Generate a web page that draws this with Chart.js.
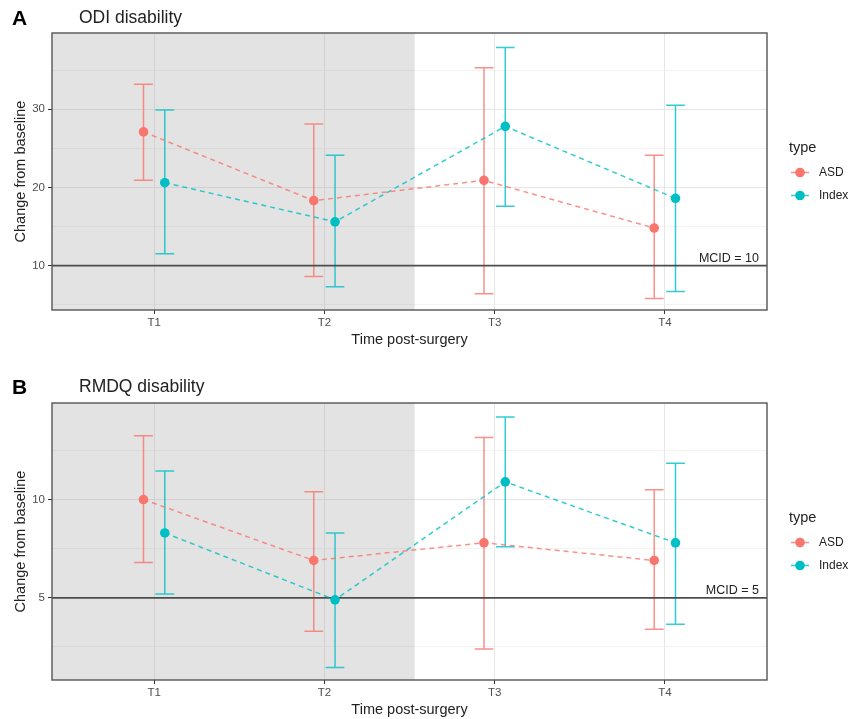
<!DOCTYPE html>
<html>
<head>
<meta charset="utf-8">
<script src="https://cdn.jsdelivr.net/npm/chart.js@4.4.1/dist/chart.umd.min.js"></script>
<style>
    body { margin: 0; background: #fff; font-family: "Liberation Sans", Arial, sans-serif; }
    #page { position: relative; width: 852px; height: 719px; overflow: hidden; }
    .panel { position: absolute; left: 0; width: 852px; height: 349px; }
    .letter { position: absolute; left: 12px; font-weight: bold; font-size: 21px; color: #000; }
    .title { position: absolute; left: 79px; font-size: 17.5px; color: #222; }
</style>
</head>
<body>
<div id="page">
    <div class="panel" style="top:0"><canvas id="odi-chart"></canvas></div>
    <div class="panel" style="top:370px"><canvas id="rmdq-chart"></canvas></div>
    <div class="letter" style="top:6px">A</div>
    <div class="title" style="top:7px">ODI disability</div>
    <div class="letter" style="top:375px">B</div>
    <div class="title" style="top:376px">RMDQ disability</div>
</div>
<script>
const timepoints = ['T1', 'T2', 'T3', 'T4'];
const groups = ['ASD', 'Index'];

// ODI (panel A)
const odiAsdMean = [27.1, 18.3, 20.9, 14.8];
const odiAsdLow = [20.9, 8.6, 6.4, 5.8];
const odiAsdHigh = [33.2, 28.1, 35.3, 24.1];
const odiIndexMean = [20.6, 15.6, 27.8, 18.6];
const odiIndexLow = [11.5, 7.3, 17.6, 6.7];
const odiIndexHigh = [29.9, 24.1, 37.9, 30.5];
const odiTicks = [5, 10, 15, 20, 25, 30, 35];
const odiLabels = [10, 20, 30];
const odiMcid = 10;

// RMDQ (panel B)
const rmdqAsdMean = [10.0, 6.9, 7.8, 6.9];
const rmdqAsdLow = [6.8, 3.3, 2.4, 3.4];
const rmdqAsdHigh = [13.25, 10.4, 13.15, 10.5];
const rmdqIndexMean = [8.3, 4.9, 10.9, 7.8];
const rmdqIndexLow = [5.2, 1.45, 7.6, 3.65];
const rmdqIndexHigh = [11.45, 8.3, 14.2, 11.85];
const rmdqTicks = [2.5, 5, 7.5, 10, 12.5];
const rmdqLabels = [5, 10];
const rmdqMcid = 5;

const COLORS = { ASD: '#F8766D', Index: '#00BFC4' };
const FADED = { ASD: 'rgba(248,118,109,0.8)', Index: 'rgba(0,191,196,0.8)' };
const FONT = '"Liberation Sans", Arial, sans-serif';
const DODGE = 0.0625;
const CAP = 0.055;
const SHADE_END = 2.53;

function offsetX(i, group) {
    return i + 1 + (group === 'ASD' ? -DODGE : DODGE);
}

function errorBarData(low, high, group) {
    const pts = [];
    low.forEach((lo, i) => {
        const x = offsetX(i, group);
        pts.push({ x: x, y: lo }, { x: x, y: high[i] }, { x: x, y: null });
        pts.push({ x: x - CAP, y: high[i] }, { x: x + CAP, y: high[i] }, { x: x, y: null });
        pts.push({ x: x - CAP, y: lo }, { x: x + CAP, y: lo }, { x: x, y: null });
    });
    return pts;
}

function meanData(mean, group) {
    return mean.map((v, i) => ({ x: offsetX(i, group), y: v }));
}

const panelPlugin = {
    id: 'panelDecor',
    beforeDatasetsDraw(chart) {
        const { ctx, chartArea, scales } = chart;
        const x1 = scales.x.getPixelForValue(SHADE_END);
        ctx.save();
        ctx.fillStyle = 'rgba(150,150,150,0.27)';
        ctx.fillRect(chartArea.left, chartArea.top, x1 - chartArea.left, chartArea.bottom - chartArea.top);
        ctx.restore();
    },
    afterDatasetsDraw(chart) {
        const { ctx, chartArea, scales } = chart;
        const opts = chart.options.plugins.panelDecor;
        ctx.save();
        // MCID label
        ctx.font = '12.5px ' + FONT;
        ctx.fillStyle = '#222';
        ctx.textAlign = 'right';
        ctx.textBaseline = 'alphabetic';
        ctx.fillText('MCID = ' + opts.mcid, chartArea.right - 8, scales.y.getPixelForValue(opts.mcid) - 4);
        // panel border
        ctx.strokeStyle = '#555';
        ctx.lineWidth = 1.4;
        ctx.strokeRect(chartArea.left, chartArea.top, chartArea.right - chartArea.left, chartArea.bottom - chartArea.top);
        // legend
        const midY = (chartArea.top + chartArea.bottom) / 2;
        const lx = chartArea.right + 22;
        ctx.textAlign = 'left';
        ctx.textBaseline = 'middle';
        ctx.font = '14.5px ' + FONT;
        ctx.fillText('type', lx, midY - 24);
        groups.forEach((g, k) => {
            const y = midY + 1 + k * 23;
            ctx.strokeStyle = FADED[g];
            ctx.lineWidth = 1.5;
            ctx.beginPath();
            ctx.moveTo(lx + 2, y);
            ctx.lineTo(lx + 20, y);
            ctx.stroke();
            ctx.fillStyle = COLORS[g];
            ctx.beginPath();
            ctx.arc(lx + 11, y, 4.8, 0, Math.PI * 2);
            ctx.fill();
            ctx.fillStyle = '#222';
            ctx.font = '12px ' + FONT;
            ctx.fillText(g, lx + 30, y);
        });
        ctx.restore();
    }
};

function buildChart(canvasId, series, yRange, yTicks, yLabels, mcid) {
    const ctx = document.getElementById(canvasId);
    const datasets = [];
    groups.forEach(g => {
        const s = series[g];
        datasets.push({
            label: g + ' error',
            data: errorBarData(s.low, s.high, g),
            borderColor: FADED[g],
            borderWidth: 1.5,
            pointRadius: 0,
            spanGaps: false,
            order: 3
        });
    });
    datasets.push({
        label: 'MCID',
        data: [{ x: 0.4, y: mcid }, { x: 4.6, y: mcid }],
        borderColor: '#4D4D4D',
        borderWidth: 1.8,
        pointRadius: 0,
        order: 2
    });
    groups.forEach(g => {
        const s = series[g];
        datasets.push({
            label: g,
            data: meanData(s.mean, g),
            borderColor: FADED[g],
            borderWidth: 1.5,
            borderDash: [5, 4],
            pointRadius: 4.8,
            pointBackgroundColor: COLORS[g],
            pointBorderWidth: 0,
            order: 1
        });
    });

    return new Chart(ctx, {
        type: 'line',
        data: { datasets: datasets },
        options: {
            responsive: true,
            maintainAspectRatio: false,
            animation: false,
            layout: { padding: { left: 0, top: 33, right: 85, bottom: 0 } },
            plugins: {
                legend: { display: false },
                tooltip: { enabled: false },
                panelDecor: { mcid: mcid }
            },
            scales: {
                x: {
                    type: 'linear',
                    min: 0.4,
                    max: 4.6,
                    afterBuildTicks: (axis) => { axis.ticks = timepoints.map((_, i) => ({ value: i + 1 })); },
                    afterFit: (axis) => { axis.height = 39; },
                    border: { display: false },
                    grid: { color: '#E6E6E6', lineWidth: 1, tickLength: 4, tickColor: '#333' },
                    ticks: {
                        color: '#4D4D4D',
                        font: { size: 11.5, family: FONT },
                        padding: 2,
                        maxRotation: 0,
                        callback: (v) => timepoints[v - 1]
                    },
                    title: {
                        display: true,
                        text: 'Time post-surgery',
                        color: '#222',
                        font: { size: 14.5, family: FONT },
                        padding: { top: 0, bottom: 0 }
                    }
                },
                y: {
                    min: yRange[0],
                    max: yRange[1],
                    afterBuildTicks: (axis) => { axis.ticks = yTicks.map(v => ({ value: v })); },
                    afterFit: (axis) => { axis.width = 52; },
                    border: { display: false },
                    grid: {
                        color: (c) => yLabels.includes(c.tick.value) ? '#E6E6E6' : '#F0F0F0',
                        lineWidth: (c) => yLabels.includes(c.tick.value) ? 1 : 0.8,
                        tickLength: 4,
                        tickColor: (c) => yLabels.includes(c.tick.value) ? '#333' : 'rgba(0,0,0,0)'
                    },
                    ticks: {
                        color: '#4D4D4D',
                        font: { size: 11.5, family: FONT },
                        padding: 3,
                        callback: (v) => yLabels.includes(v) ? String(v) : ''
                    },
                    title: {
                        display: true,
                        text: 'Change from baseline',
                        color: '#222',
                        font: { size: 14.5, family: FONT },
                        padding: { top: 12, bottom: 0 }
                    }
                }
            }
        },
        plugins: [panelPlugin]
    });
}

buildChart('odi-chart', {
    ASD: { mean: odiAsdMean, low: odiAsdLow, high: odiAsdHigh },
    Index: { mean: odiIndexMean, low: odiIndexLow, high: odiIndexHigh }
}, [4.32, 39.74], odiTicks, odiLabels, odiMcid);

buildChart('rmdq-chart', {
    ASD: { mean: rmdqAsdMean, low: rmdqAsdLow, high: rmdqAsdHigh },
    Index: { mean: rmdqIndexMean, low: rmdqIndexLow, high: rmdqIndexHigh }
}, [0.82, 14.91], rmdqTicks, rmdqLabels, rmdqMcid);
</script>
</body>
</html>
